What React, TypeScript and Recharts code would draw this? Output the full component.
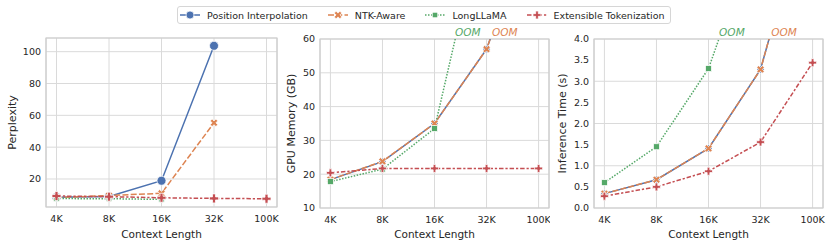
import { LineChart, Line, XAxis, YAxis, CartesianGrid, ReferenceArea, ReferenceDot, Label } from 'recharts';

const FONT = '"DejaVu Sans", sans-serif';
const TEXT = '#262626';

const contexts = ['4K', '8K', '16K', '32K', '100K'];
const seriesNames = ['Position Interpolation', 'NTK-Aware', 'LongLLaMA', 'Extensible Tokenization'];
const seriesKeys = ['pi', 'ntk', 'llama', 'et'];
const colors = ['#4C72B0', '#DD8452', '#55A868', '#C44E52'];
const dashes = ['', '6 2.25', '1.5 1.5', '4.5 1.9 2.25 1.9'];
const markers = ['circle', 'x', 'square', 'plus'];

// perplexity
const pplPI = [8.6, 9.0, 18.9, 103.7, null];
const pplNTK = [8.3, 9.6, 11.0, 55.3, null];
const pplLongLLaMA = [7.7, 7.6, 7.2, null, null];
const pplET = [9.3, 8.9, 8.2, 7.8, 7.6];

// gpu memory (GB), values past the top are the OOM runs going off the chart
const memPI = [18.4, 23.7, 35.0, 57.0, 100];
const memNTK = [18.4, 23.8, 35.0, 57.0, 100];
const memLongLLaMA = [17.8, 21.5, 33.5, 100, null];
const memET = [20.4, 21.7, 21.7, 21.7, 21.7];

// inference time (s)
const timePI = [0.34, 0.67, 1.41, 3.28, 7.7];
const timeNTK = [0.34, 0.67, 1.41, 3.28, 7.7];
const timeLongLLaMA = [0.6, 1.45, 3.3, 6.8, null];
const timeET = [0.28, 0.5, 0.87, 1.56, 3.44];

const pplTicks = [20, 40, 60, 80, 100];
const memTicks = [10, 20, 30, 40, 50, 60];
const timeTicks = [0, 0.5, 1, 1.5, 2, 2.5, 3, 3.5, 4];

// where the OOM notes sit (x in category index units)
const memOOM = [{ x: 2.64, color: colors[2] }, { x: 3.35, color: colors[1] }];
const timeOOM = [{ x: 2.45, color: colors[2] }, { x: 3.45, color: colors[1] }];

const toRows = (cols: (number | null)[][]) =>
  contexts.map((c, i) => ({ i, pi: cols[0][i], ntk: cols[1][i], llama: cols[2][i], et: cols[3][i] }));

function markerShape(kind: string, cx: number, cy: number, s: number, color: string, key?: string) {
  const a = s / 6;
  const h = s / 2;
  const plus = [[-a, -h], [a, -h], [a, -a], [h, -a], [h, a], [a, a], [a, h], [-a, h], [-a, a], [-h, a], [-h, -a], [-a, -a]];
  if (kind === 'circle') {
    return <circle key={key} cx={cx} cy={cy} r={h} fill={color} stroke="#fff" strokeWidth={0.75} />;
  }
  if (kind === 'square') {
    return <rect key={key} x={cx - h} y={cy - h} width={s} height={s} fill={color} stroke="#fff" strokeWidth={0.75} />;
  }
  let pts = plus;
  if (kind === 'x') {
    const c = Math.SQRT1_2;
    pts = plus.map(([x, y]) => [x * c - y * c, x * c + y * c]);
  }
  const d = pts.map(([x, y]) => `${(cx + x).toFixed(2)},${(cy + y).toFixed(2)}`).join(' ');
  return <polygon key={key} points={d} fill={color} stroke="#fff" strokeWidth={0.75} />;
}

type PanelProps = {
  left: number;
  width: number;
  yWidth: number;
  right: number;
  top: number;
  xHeight: number;
  rows: any[];
  domain: [number, number];
  ticks: number[];
  fmt: (v: number) => string;
  yLabel: string;
  labelX: number;
  sizes: number[];
  oom?: { x: number; color: string }[];
};

function Panel(p: PanelProps) {
  const midY = p.top + (245 - p.xHeight - p.top) / 2;
  return (
    <div style={{ position: 'absolute', left: p.left, top: 0 }}>
      <LineChart width={p.width} height={245} data={p.rows} margin={{ top: p.top, right: p.right, bottom: 0, left: 0 }}>
        <CartesianGrid stroke="#dadada" strokeWidth={1} />
        <XAxis
          type="number"
          dataKey="i"
          domain={[-0.2, 4.2]}
          ticks={[0, 1, 2, 3, 4]}
          tickFormatter={(v: number) => contexts[v]}
          axisLine={false}
          tickLine={false}
          tickSize={0}
          tickMargin={8}
          height={p.xHeight}
          tick={{ fill: TEXT, fontSize: 9.5, fontFamily: FONT }}
        >
          <Label value="Context Length" position="insideBottom" offset={7} fill={TEXT} fontSize={10.5} fontFamily={FONT} />
        </XAxis>
        <YAxis
          type="number"
          domain={p.domain}
          ticks={p.ticks}
          allowDataOverflow
          tickFormatter={p.fmt}
          axisLine={false}
          tickLine={false}
          tickSize={0}
          tickMargin={5}
          width={p.yWidth}
          tick={{ fill: TEXT, fontSize: 9.5, fontFamily: FONT }}
        >
          <Label
            content={() => (
              <text
                x={p.labelX}
                y={midY}
                transform={`rotate(-90 ${p.labelX} ${midY})`}
                textAnchor="middle"
                dominantBaseline="central"
                fill={TEXT}
                fontSize={11}
                fontFamily={FONT}
              >
                {p.yLabel}
              </text>
            )}
          />
        </YAxis>
        <ReferenceArea x1={-0.2} x2={4.2} y1={p.domain[0]} y2={p.domain[1]} fill="none" stroke="#cccccc" strokeWidth={1.2} ifOverflow="visible" />
        {seriesKeys.map((k, si) => (
          <Line
            key={k}
            dataKey={k}
            name={seriesNames[si]}
            stroke={colors[si]}
            strokeWidth={1.5}
            strokeDasharray={dashes[si]}
            isAnimationActive={false}
            connectNulls={false}
            activeDot={false}
            dot={(d: any) =>
              d.value == null || d.cx == null
                ? <g key={`${k}-${d.index}`} />
                : markerShape(markers[si], d.cx, d.cy, p.sizes[si], colors[si], `${k}-${d.index}`)
            }
          />
        ))}
        {(p.oom || []).map((o, n) => (
          <ReferenceDot
            key={n}
            x={o.x}
            y={p.domain[1]}
            r={0}
            fill="none"
            stroke="none"
            ifOverflow="visible"
            label={{ value: 'OOM', position: 'top', offset: 3, fill: o.color, fontStyle: 'italic', fontSize: 10.5, fontFamily: FONT }}
          />
        ))}
      </LineChart>
    </div>
  );
}

function LegendBox() {
  return (
    <div
      style={{
        position: 'absolute',
        left: 177,
        top: 6,
        width: 490,
        height: 16,
        border: '1px solid #d6d6d6',
        borderRadius: 3,
        background: '#fff',
        fontFamily: FONT,
        fontSize: 9.5,
        color: TEXT,
        display: 'flex',
        alignItems: 'center',
        paddingLeft: 2,
        gap: 20,
        boxSizing: 'content-box',
      }}
    >
      {seriesNames.map((n, si) => (
        <div key={n} style={{ display: 'flex', alignItems: 'center', gap: 7 }}>
          <svg width={20} height={12}>
            <line x1={0} y1={6} x2={20} y2={6} stroke={colors[si]} strokeWidth={1.5} strokeDasharray={dashes[si]} />
            {markerShape(markers[si], 10, 6, si === 2 ? 5.5 : 8, colors[si])}
          </svg>
          <span style={{ whiteSpace: 'nowrap' }}>{n}</span>
        </div>
      ))}
    </div>
  );
}

export default function App() {
  return (
    <div style={{ position: 'absolute', left: 0, top: 0, width: 831, height: 245, background: '#fff', overflow: 'hidden' }}>
      <Panel
        left={0}
        width={280}
        yWidth={46}
        right={3}
        top={38}
        xHeight={38}
        rows={toRows([pplPI, pplNTK, pplLongLLaMA, pplET])}
        domain={[2.4, 108.6]}
        ticks={pplTicks}
        fmt={(v) => String(v)}
        yLabel="Perplexity"
        labelX={12}
        sizes={[9, 8, 5.5, 9]}
      />
      <Panel
        left={280}
        width={270}
        yWidth={40}
        right={1}
        top={39}
        xHeight={37}
        rows={toRows([memPI, memNTK, memLongLLaMA, memET])}
        domain={[10, 60]}
        ticks={memTicks}
        fmt={(v) => String(v)}
        yLabel="GPU Memory (GB)"
        labelX={11}
        sizes={[7, 8, 6, 8]}
        oom={memOOM}
      />
      <Panel
        left={550}
        width={281}
        yWidth={44}
        right={8}
        top={39}
        xHeight={37}
        rows={toRows([timePI, timeNTK, timeLongLLaMA, timeET])}
        domain={[0, 4]}
        ticks={timeTicks}
        fmt={(v) => v.toFixed(1)}
        yLabel="Inference Time (s)"
        labelX={12}
        sizes={[7, 8, 6, 8]}
        oom={timeOOM}
      />
      <LegendBox />
    </div>
  );
}
